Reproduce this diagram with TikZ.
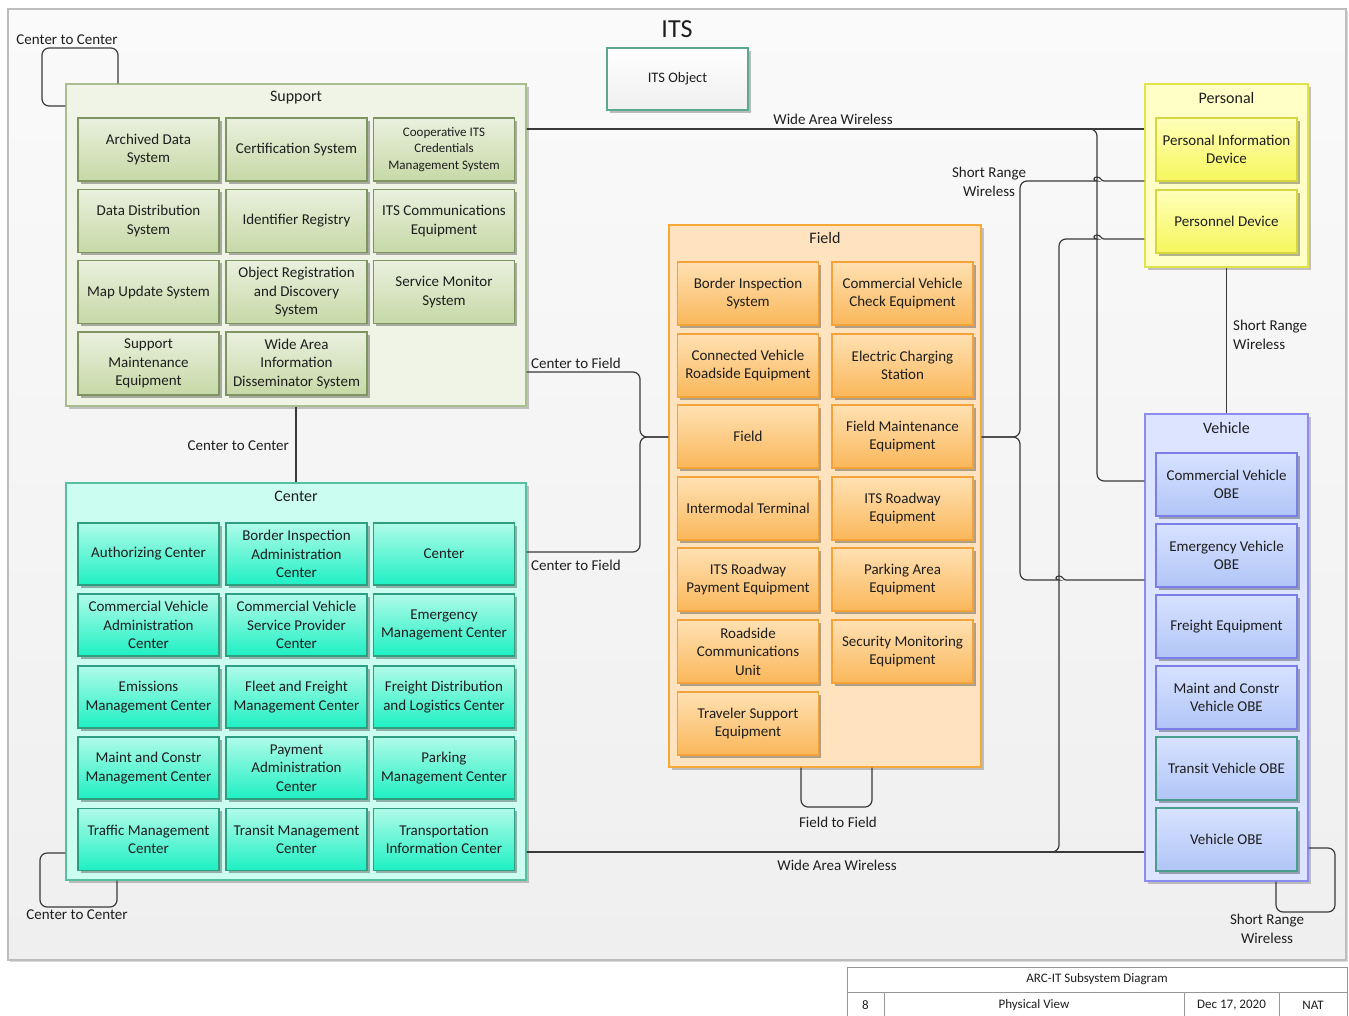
\documentclass[tikz,border=0pt]{standalone}
\usepackage{fontspec}
\setmainfont{Carlito}
\usetikzlibrary{shadows}
\definecolor{txt}{HTML}{1E1E1E}
\definecolor{linec}{HTML}{3A3A3A}
\definecolor{frameD}{HTML}{BDBDBD}
\definecolor{frameT}{HTML}{FAFAFA}
\definecolor{frameB}{HTML}{EFEFEF}
\definecolor{supG}{HTML}{F0F4E7}
\definecolor{supGD}{HTML}{A9BE8E}
\definecolor{supT}{HTML}{EAF0DE}
\definecolor{supB}{HTML}{C6D9A6}
\definecolor{supD}{HTML}{7E9562}
\definecolor{cenG}{HTML}{CBFDF0}
\definecolor{cenGD}{HTML}{55BFA0}
\definecolor{cenT}{HTML}{B0FBE8}
\definecolor{cenB}{HTML}{1EF0C4}
\definecolor{cenD}{HTML}{2F9E80}
\definecolor{fldG}{HTML}{FFE3BF}
\definecolor{fldGD}{HTML}{F5A838}
\definecolor{fldT}{HTML}{FFE1B3}
\definecolor{fldB}{HTML}{FAB75A}
\definecolor{fldD}{HTML}{F2A43A}
\definecolor{perG}{HTML}{FFFFC6}
\definecolor{perGD}{HTML}{E2E24A}
\definecolor{perT}{HTML}{FFFFBA}
\definecolor{perB}{HTML}{F6F65C}
\definecolor{perD}{HTML}{D6D640}
\definecolor{vehG}{HTML}{DCE4FF}
\definecolor{vehGD}{HTML}{8A8CF2}
\definecolor{vehT}{HTML}{D8E2FF}
\definecolor{vehB}{HTML}{B0C5F7}
\definecolor{vehD}{HTML}{7B7EE6}
\definecolor{vehD2}{HTML}{4A9E8E}
\definecolor{objD}{HTML}{5AA890}
\newcommand\itemfont{\fontsize{15}{18.5}\selectfont}
\newcommand\smallitemfont{\fontsize{13}{16.5}\selectfont}
\newcommand\lblfont{\fontsize{15}{18.5}\selectfont}
\newcommand\grpfont{\fontsize{16}{19}\selectfont}
\begin{document}
\begin{tikzpicture}[x=1pt,y=-1pt,
  every node/.style={text=txt},
  conn/.style={draw=linec, line width=1.2pt, rounded corners=7pt},
  grp/.style={rectangle, line width=1.4pt, inner sep=0pt,
    drop shadow={shadow xshift=3pt,shadow yshift=-3pt,opacity=0.22,fill=black}},
  grptitle/.style={font=\grpfont, inner sep=0pt},
  item/.style={rectangle, line width=1.1pt, minimum width=141pt, minimum height=63pt,
    inner sep=1pt, align=center, font=\itemfont,
    drop shadow={shadow xshift=2.5pt,shadow yshift=-2.5pt,opacity=0.3,fill=black}},
  supitem/.style={item, draw=supD, top color=supT, bottom color=supB},
  cenitem/.style={item, draw=cenD, top color=cenT, bottom color=cenB, minimum height=62pt},
  flditem/.style={item, draw=fldD, top color=fldT, bottom color=fldB},
  peritem/.style={item, draw=perD, top color=perT, bottom color=perB},
  vehitem/.style={item, draw=vehD, top color=vehT, bottom color=vehB},
  lbl/.style={font=\lblfont, inner sep=0pt, align=center},
  tbcell/.style={rectangle, draw=frameD!80!black, line width=0.9pt, fill=white, inner sep=0pt,
    font=\fontsize{13}{15}\selectfont}
]
\useasboundingbox (0,0) rectangle (1349,1015);
\clip (0,0) rectangle (1349,1015);
\fill[white] (0,0) rectangle (1349,1015);
% outer frame
\path[draw=frameD, line width=1.3pt, top color=frameT, bottom color=frameB,
  drop shadow={shadow xshift=2pt,shadow yshift=-2pt,opacity=0.15,fill=black}]
  (8,9) rectangle (1346,960);

\node[font=\fontsize{26}{30}\selectfont, inner sep=0pt] (title) at (677,29) {ITS};
\node[rectangle, draw=objD, line width=1.3pt, top color=white, bottom color=frameB,
  minimum width=141pt, minimum height=62pt, font=\fontsize{14.5}{17}\selectfont,
  drop shadow={shadow xshift=2.5pt,shadow yshift=-2.5pt,opacity=0.25,fill=black}]
  (itsobj) at (677.5,79) {ITS Object};

% ---------- groups ----------
\node[grp, draw=supGD, fill=supG, minimum width=460pt, minimum height=322pt] (support) at (296,245) {};
\node[grptitle] (supportT) at (296,98) {Support};
\node[grp, draw=cenGD, fill=cenG, minimum width=460pt, minimum height=397pt] (center) at (296,681.5) {};
\node[grptitle] (centerT) at (296,496) {Center};
\node[grp, draw=fldGD, fill=fldG, minimum width=312pt, minimum height=542pt] (field) at (825,496) {};
\node[grptitle] (fieldT) at (825,238) {Field};
\node[grp, draw=perGD, fill=perG, minimum width=163pt, minimum height=183pt] (personal) at (1226.5,175.5) {};
\node[grptitle] (personalT) at (1226.5,98) {Personal};
\node[grp, draw=vehGD, fill=vehG, minimum width=163pt, minimum height=467pt] (vehicle) at (1226.5,647.5) {};
\node[grptitle] (vehicleT) at (1226.5,428) {Vehicle};

% ---------- support items ----------
\node[supitem] (s11) at (148.5,149.5) {Archived Data\\System};
\node[supitem] (s12) at (296.5,149.5) {Certification System};
\node[supitem, font=\smallitemfont] (s13) at (444,149.5) {Cooperative ITS\\Credentials\\Management System};
\node[supitem] (s21) at (148.5,221) {Data Distribution\\System};
\node[supitem] (s22) at (296.5,221) {Identifier Registry};
\node[supitem] (s23) at (444,221) {ITS Communications\\Equipment};
\node[supitem] (s31) at (148.5,292) {Map Update System};
\node[supitem] (s32) at (296.5,292) {Object Registration\\and Discovery\\System};
\node[supitem] (s33) at (444,292) {Service Monitor\\System};
\node[supitem] (s41) at (148.5,363.5) {Support\\Maintenance\\Equipment};
\node[supitem] (s42) at (296.5,363.5) {Wide Area\\Information\\Disseminator System};

% ---------- center items ----------
\node[cenitem] (c11) at (148.5,554) {Authorizing Center};
\node[cenitem] (c12) at (296.5,554) {Border Inspection\\Administration\\Center};
\node[cenitem] (c13) at (444,554) {Center};
\node[cenitem] (c21) at (148.5,625) {Commercial Vehicle\\Administration\\Center};
\node[cenitem] (c22) at (296.5,625) {Commercial Vehicle\\Service Provider\\Center};
\node[cenitem] (c23) at (444,625) {Emergency\\Management Center};
\node[cenitem] (c31) at (148.5,697) {Emissions\\Management Center};
\node[cenitem] (c32) at (296.5,697) {Fleet and Freight\\Management Center};
\node[cenitem] (c33) at (444,697) {Freight Distribution\\and Logistics Center};
\node[cenitem] (c41) at (148.5,768) {Maint and Constr\\Management Center};
\node[cenitem] (c42) at (296.5,768) {Payment\\Administration\\Center};
\node[cenitem] (c43) at (444,768) {Parking\\Management Center};
\node[cenitem] (c51) at (148.5,839.5) {Traffic Management\\Center};
\node[cenitem] (c52) at (296.5,839.5) {Transit Management\\Center};
\node[cenitem] (c53) at (444,839.5) {Transportation\\Information Center};

% ---------- field items ----------
\node[flditem] (f11) at (748,293.5) {Border Inspection\\System};
\node[flditem] (f12) at (902.5,293.5) {Commercial Vehicle\\Check Equipment};
\node[flditem] (f21) at (748,365.5) {Connected Vehicle\\Roadside Equipment};
\node[flditem] (f22) at (902.5,365.5) {Electric Charging\\Station};
\node[flditem] (f31) at (748,436.5) {Field};
\node[flditem] (f32) at (902.5,436.5) {Field Maintenance\\Equipment};
\node[flditem] (f41) at (748,508.5) {Intermodal Terminal};
\node[flditem] (f42) at (902.5,508.5) {ITS Roadway\\Equipment};
\node[flditem] (f51) at (748,579.5) {ITS Roadway\\Payment Equipment};
\node[flditem] (f52) at (902.5,579.5) {Parking Area\\Equipment};
\node[flditem] (f61) at (748,651.5) {Roadside\\Communications\\Unit};
\node[flditem] (f62) at (902.5,651.5) {Security Monitoring\\Equipment};
\node[flditem] (f71) at (748,723.5) {Traveler Support\\Equipment};

% ---------- personal items ----------
\node[peritem] (p1) at (1226.5,149.5) {Personal Information\\Device};
\node[peritem] (p2) at (1226.5,221.5) {Personnel Device};

% ---------- vehicle items ----------
\node[vehitem] (v1) at (1226.5,484.5) {Commercial Vehicle\\OBE};
\node[vehitem] (v2) at (1226.5,555.5) {Emergency Vehicle\\OBE};
\node[vehitem] (v3) at (1226.5,626.5) {Freight Equipment};
\node[vehitem] (v4) at (1226.5,697.5) {Maint and Constr\\Vehicle OBE};
\node[vehitem, draw=vehD2] (v5) at (1226.5,768.5) {Transit Vehicle OBE};
\node[vehitem, draw=vehD2] (v6) at (1226.5,839.5) {Vehicle OBE};

% ---------- connectors ----------
% Support self loop
\draw[conn] (support.west |- 0,106) -- (42,106) -- (42,48) -- (118,48) -- (support.north -| 118,0);
\node[lbl] (lcc1) at (67,40) {Center to Center};
% Support - Center
\draw[conn] (support.south) -- (center.north);
\node[lbl, anchor=east] (lcc2) at (289,446) {Center to Center};
% Center self loop
\draw[conn] (center.west |- 0,853) -- (40,853) -- (40,907) -- (117,907) -- (center.south -| 117,0);
\node[lbl] (lcc3) at (77,915) {Center to Center};
% Wide area wireless (top)
\draw[conn] (support.east |- 0,129) -- (personal.west |- 0,129);
\draw[conn] (support.east |- 0,129) -- (1097,129) |- (vehicle.west |- 0,481);
\node[lbl] (lwa1) at (833,119) {Wide Area Wireless};
% Wide area wireless (bottom)
\draw[conn] (center.east |- 0,852) -| (1059,239) -- (1090,239) [sharp corners]
  .. controls (1093,239) and (1093,235) .. (1097,235)
  .. controls (1101,235) and (1101,239) .. (1104,239) -- (personal.west |- 0,239);
\draw[conn] (center.east |- 0,852) -- (vehicle.west |- 0,852);
\node[lbl] (lwa2) at (837,865) {Wide Area Wireless};
% Center to field
\draw[conn] (support.east |- 0,372) -| (640,437) -- (field.west |- 0,437);
\draw[conn] (center.east |- 0,552) -| (640,437) -- (field.west |- 0,437);
\node[lbl, anchor=west] (lcf1) at (531,363) {Center to Field};
\node[lbl, anchor=west] (lcf2) at (531,565) {Center to Field};
% Field short range
\draw[conn] (field.east |- 0,437) -| (1020,181) -- (1090,181) [sharp corners]
  .. controls (1093,181) and (1093,177) .. (1097,177)
  .. controls (1101,177) and (1101,181) .. (1104,181) -- (personal.west |- 0,181);
\draw[conn] (field.east |- 0,437) -| (1020,580) -- (1052,580) [sharp corners]
  .. controls (1055,580) and (1055,576) .. (1059,576)
  .. controls (1063,576) and (1063,580) .. (1066,580) -- (vehicle.west |- 0,580);
\node[lbl] (lsr1) at (989,182) {Short Range\\Wireless};
% Field self loop
\draw[conn] (field.south -| 801,0) -- (801,807) -- (872,807) -- (field.south -| 872,0);
\node[lbl] (lff) at (838,822) {Field to Field};
% Personal - Vehicle
\draw[conn] (personal.south) -- (vehicle.north);
\node[lbl, anchor=west, align=left] (lsr2) at (1233,335) {Short Range\\Wireless};
% Vehicle self loop
\draw[conn] (vehicle.east |- 0,848) -- (1335,848) -- (1335,912) -- (1276,912) -- (vehicle.south -| 1276,0);
\node[lbl] (lsr3) at (1267,929) {Short Range\\Wireless};

% ---------- title block ----------
\node[tbcell, minimum width=500pt, minimum height=25pt] (tb0) at (1097,979.5) {ARC-IT Subsystem Diagram};
\node[tbcell, minimum width=37pt, minimum height=26pt] (tb1) at (865.5,1005) {8};
\node[tbcell, minimum width=300pt, minimum height=26pt] (tb2) at (1034,1005) {Physical View};
\node[tbcell, minimum width=95pt, minimum height=26pt] (tb3) at (1231.5,1005) {Dec 17, 2020};
\node[tbcell, minimum width=68pt, minimum height=26pt] (tb4) at (1313,1005) {NAT};
\end{tikzpicture}
\end{document}
